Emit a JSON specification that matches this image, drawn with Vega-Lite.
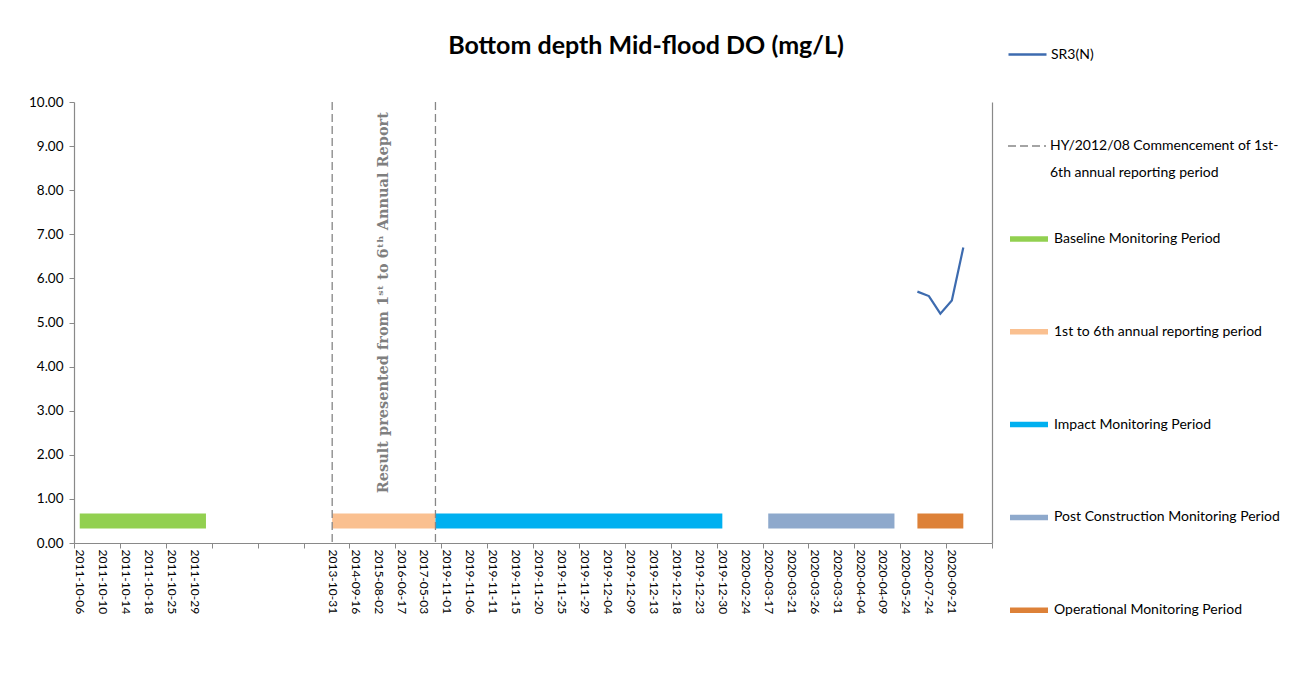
{
  "$schema": "https://vega.github.io/schema/vega-lite/v6.json",
  "width": 918,
  "height": 441,
  "autosize": {"type": "none"},
  "padding": {"left": 74, "top": 102, "right": 303, "bottom": 131},
  "background": "white",
  "config": {"view": {"stroke": null}, "font": "Lato"},
  "title": {
    "text": "Bottom depth Mid-flood DO (mg/L)",
    "anchor": "middle",
    "frame": "group",
    "dx": 113,
    "offset": 0,
    "dy": 25,
    "font": "Lato",
    "fontSize": 25,
    "fontWeight": "bold",
    "color": "black"
  },
  "datasets": {
    "periods": [
      {"series": "Baseline Monitoring Period", "idx": 1, "date": "2011-10-06", "value": 0.5},
      {"series": "Baseline Monitoring Period", "idx": 12, "date": "", "value": 0.5},
      {"series": "1st to 6th annual reporting period", "idx": 23, "date": "2013-10-31", "value": 0.5},
      {"series": "1st to 6th annual reporting period", "idx": 32, "date": "", "value": 0.5},
      {"series": "Impact Monitoring Period", "idx": 32, "date": "", "value": 0.5},
      {"series": "Impact Monitoring Period", "idx": 57, "date": "2019-12-30", "value": 0.5},
      {"series": "Post Construction Monitoring Period", "idx": 61, "date": "2020-03-17", "value": 0.5},
      {"series": "Post Construction Monitoring Period", "idx": 72, "date": "", "value": 0.5},
      {"series": "Operational Monitoring Period", "idx": 74, "date": "", "value": 0.5},
      {"series": "Operational Monitoring Period", "idx": 78, "date": "", "value": 0.5}
    ],
    "markers": [
      {"series": "HY/2012/08 Commencement of 1st-6th annual reporting period", "idx": 23},
      {"series": "HY/2012/08 Commencement of 1st-6th annual reporting period", "idx": 32}
    ],
    "sr3": [
      {"series": "SR3(N)", "idx": 74, "value": 5.7},
      {"series": "SR3(N)", "idx": 75, "value": 5.6},
      {"series": "SR3(N)", "idx": 76, "value": 5.2},
      {"series": "SR3(N)", "idx": 77, "value": 5.5},
      {"series": "SR3(N)", "idx": 78, "value": 6.7}
    ],
    "note": [
      {"idx": 27.5, "value": 5.45, "text": "Result presented from 1ˢᵗ to 6ᵗʰ Annual Report"}
    ]
  },
  "layer": [
    {
      "data": {"name": "periods"},
      "mark": {"type": "line", "strokeWidth": 15, "strokeCap": "butt"},
      "encoding": {
        "x": {
          "field": "idx", "type": "quantitative",
          "scale": {"domain": [0.5, 80.5], "nice": false, "zero": false},
          "axis": {
            "orient": "bottom",
            "title": null,
            "grid": false,
            "values": [1,3,5,7,9,11,13,15,17,19,21,23,25,27,29,31,33,35,37,39,41,43,45,47,49,51,53,55,57,59,61,63,65,67,69,71,73,75,77,79],
            "labelExpr": "['2011-10-06','2011-10-10','2011-10-14','2011-10-18','2011-10-25','2011-10-29','','','','','','2013-10-31','2014-09-16','2015-08-02','2016-06-17','2017-05-03','2019-11-01','2019-11-06','2019-11-11','2019-11-15','2019-11-20','2019-11-25','2019-11-29','2019-12-04','2019-12-09','2019-12-13','2019-12-18','2019-12-23','2019-12-30','2020-02-24','2020-03-17','2020-03-21','2020-03-26','2020-03-31','2020-04-04','2020-04-09','2020-05-24','2020-07-24','2020-09-21',''][floor(datum.value/2)]",
            "labelAngle": 90,
            "labelAlign": "left",
            "labelBaseline": "middle",
            "labelPadding": 6,
            "labelFont": "Lato",
            "labelFontSize": 12,
            "labelColor": "black",
            "labelOverlap": false,
            "labelBound": false,
            "labelFlush": false,
            "ticks": false,
            "domain": true,
            "domainColor": "#898989",
            "domainWidth": 1.2
          }
        },
        "y": {
          "field": "value", "type": "quantitative",
          "scale": {"domain": [0, 10], "nice": false},
          "axis": {
            "orient": "left",
            "title": null,
            "grid": false,
            "values": [0,1,2,3,4,5,6,7,8,9,10],
            "format": ".2f",
            "labelFont": "Lato",
            "labelFontSize": 13.5,
            "labelColor": "black",
            "labelPadding": 6,
            "tickSize": 5,
            "tickColor": "#898989",
            "domainColor": "#898989",
            "domainWidth": 1.2
          }
        },
        "color": {
          "field": "series", "type": "nominal",
          "scale": {
            "domain": ["Baseline Monitoring Period", "1st to 6th annual reporting period", "Impact Monitoring Period", "Post Construction Monitoring Period", "Operational Monitoring Period"],
            "range": ["#92D050", "#FAC090", "#00B0F0", "#8EA9CC", "#DD8138"]
          },
          "legend": {
            "title": null,
            "orient": "none",
            "legendX": 933,
            "legendY": 115,
            "padding": 0,
            "symbolType": "stroke",
            "symbolSize": 1444,
            "symbolStrokeWidth": 5.5,
            "labelFont": "Lato",
            "labelFontSize": 14,
            "labelColor": "black",
            "labelOffset": 3,
            "labelLimit": 400,
            "rowPadding": 59.8
          }
        }
      }
    },
    {
      "data": {"name": "markers"},
      "mark": {"type": "rule", "strokeWidth": 1.3, "color": "#868686"},
      "encoding": {
        "x": {
          "field": "idx", "type": "quantitative",
          "axis": {
            "orient": "bottom",
            "title": null,
            "grid": false,
            "values": [0.5,4.5,8.5,12.5,16.5,20.5,24.5,28.5,32.5,36.5,40.5,44.5,48.5,52.5,56.5,60.5,64.5,68.5,72.5,76.5,80.5],
            "labels": false,
            "ticks": true,
            "tickSize": 5,
            "tickColor": "#898989",
            "domain": false
          }
        },
        "strokeDash": {
          "field": "series", "type": "nominal",
          "scale": {
            "domain": ["HY/2012/08 Commencement of 1st-6th annual reporting period", "6th annual reporting period"],
            "range": [[8, 4], [0, 40]]
          },
          "legend": {
            "title": null,
            "orient": "none",
            "legendX": 933,
            "legendY": 24,
            "padding": 0,
            "symbolType": "stroke",
            "symbolSize": 1444,
            "symbolStrokeWidth": 1.3,
            "symbolStrokeColor": "#868686",
            "labelFont": "Lato",
            "labelFontSize": 14,
            "labelColor": "black",
            "labelOffset": 3,
            "labelLimit": 400,
            "rowPadding": -20,
            "labelExpr": "datum.label == 'HY/2012/08 Commencement of 1st-6th annual reporting period' ? 'HY/2012/08 Commencement of 1st-' : datum.label"
          }
        }
      }
    },
    {
      "data": {"name": "sr3"},
      "mark": {"type": "line", "strokeWidth": 2.2},
      "encoding": {
        "x": {"field": "idx", "type": "quantitative", "axis": null},
        "y": {
          "field": "value", "type": "quantitative",
          "axis": {
            "orient": "right",
            "title": null,
            "grid": false,
            "labels": false,
            "ticks": false,
            "domain": true,
            "domainColor": "#898989",
            "domainWidth": 1.2
          }
        },
        "stroke": {
          "field": "series", "type": "nominal",
          "scale": {"domain": ["SR3(N)"], "range": ["#3D6BAF"]},
          "legend": {
            "title": null,
            "orient": "none",
            "legendX": 933,
            "legendY": -68,
            "padding": 0,
            "symbolType": "stroke",
            "symbolSize": 1444,
            "symbolStrokeWidth": 2.4,
            "labelFont": "Lato",
            "labelFontSize": 14,
            "labelColor": "black",
            "labelOffset": 3,
            "labelLimit": 400
          }
        }
      }
    },
    {
      "data": {"name": "note"},
      "mark": {"type": "text", "angle": 270, "font": "DejaVu Serif", "fontWeight": "bold", "fontSize": 14.5, "color": "#7F7F7F", "align": "center", "baseline": "middle"},
      "encoding": {
        "x": {"field": "idx", "type": "quantitative", "axis": null},
        "y": {"field": "value", "type": "quantitative", "axis": null},
        "text": {"field": "text"}
      }
    }
  ],
  "resolve": {"axis": {"x": "independent", "y": "independent"}}
}
